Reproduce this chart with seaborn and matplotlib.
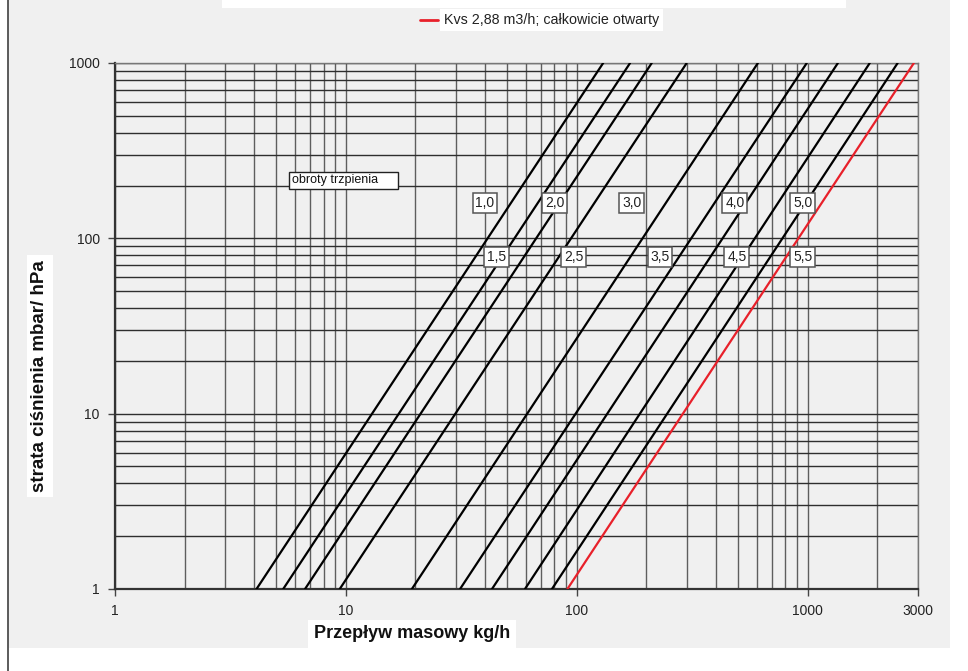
import matplotlib
matplotlib.use("Agg")
import matplotlib.pyplot as plt
from matplotlib.patches import Rectangle
from matplotlib.lines import Line2D
from matplotlib.ticker import FixedLocator, NullFormatter, LogLocator
import numpy as np
import pandas as pd
import seaborn as sns

# Valve characteristic: pressure loss vs. mass flow for each number of spindle turns
turns = ["1,0", "1,5", "2,0", "2,5", "3,0", "3,5", "4,0", "4,5", "5,0"]
flow_at_1mbar = [4.1, 5.35, 6.65, 9.4, 19.3, 31.2, 42.9, 59.6, 78.0]          # kg/h
flow_at_1000mbar = [130, 170, 211, 299, 608, 990, 1350, 1855, 2450]          # kg/h
dp_ends = [1, 1000]                                                          # mbar

# Fully open valve, Kvs 2.88 m3/h
open_flow = [91, 2880]
open_label = "Kvs 2,88 m3/h; całkowicie otwarty"

# Turn labels placed next to the curves (x in kg/h, y in mbar)
label_text = ["1,0", "2,0", "3,0", "4,0", "5,0", "1,5", "2,5", "3,5", "4,5", "5,5"]
label_x = [40, 80, 173, 483, 951, 45, 97, 229, 493, 951]
label_y = [159, 159, 159, 159, 159, 78, 78, 78, 78, 78]

x_ticks = [1, 10, 100, 1000, 3000]
x_tick_labels = ["1", "10", "100", "1000", "3000"]
y_ticks = [1, 10, 100, 1000]
y_tick_labels = ["1", "10", "100", "1000"]

rows = []
for t, f1, f2 in zip(turns, flow_at_1mbar, flow_at_1000mbar):
    rows.append({"obroty": t, "flow": f1, "dp": dp_ends[0]})
    rows.append({"obroty": t, "flow": f2, "dp": dp_ends[1]})
df = pd.DataFrame(rows)
df_open = pd.DataFrame({"flow": open_flow, "dp": dp_ends})

sns.set_theme(style="white")
plt.rcParams["font.family"] = ["Liberation Sans", "DejaVu Sans"]

BG = "#f0f0f0"
W, H = 968, 671
fig = plt.figure(figsize=(W / 100, H / 100), dpi=100, facecolor="white")

# grey panel behind the chart, with a dark left edge
fig.patches.append(Rectangle((8 / W, 1 - 648 / H), (950 - 8) / W, 648 / H,
                             transform=fig.transFigure, facecolor=BG,
                             edgecolor="none", zorder=-10))
fig.lines.append(Line2D([8 / W, 8 / W], [0.0, 1.0], transform=fig.transFigure,
                        color="#404040", lw=1.2))
# white strip at the top edge
fig.patches.append(Rectangle((222 / W, 1 - 8 / H), (846 - 222) / W, 8 / H,
                             transform=fig.transFigure, facecolor="white",
                             edgecolor="none", zorder=-5))

ax = fig.add_axes([115 / W, 1 - 589 / H, (918 - 115) / W, (589 - 63) / H])
ax.set_facecolor(BG)
ax.set_xscale("log")
ax.set_yscale("log")
ax.set_xlim(1, 3000)
ax.set_ylim(1, 1000)

sns.lineplot(data=df, x="flow", y="dp", units="obroty", estimator=None,
             color="black", lw=1.6, ax=ax, zorder=3)
sns.lineplot(data=df_open, x="flow", y="dp", color="#e8202a", lw=1.6,
             ax=ax, zorder=4)

ax.xaxis.set_major_locator(FixedLocator(x_ticks))
ax.set_xticklabels(x_tick_labels)
ax.yaxis.set_major_locator(FixedLocator(y_ticks))
ax.set_yticklabels(y_tick_labels)
ax.xaxis.set_minor_locator(LogLocator(base=10, subs=np.arange(2, 10)))
ax.yaxis.set_minor_locator(LogLocator(base=10, subs=np.arange(2, 10)))
ax.xaxis.set_minor_formatter(NullFormatter())
ax.yaxis.set_minor_formatter(NullFormatter())
ax.tick_params(which="major", length=5, width=1, color="#444444",
               labelsize=10, labelcolor="#222222", pad=6, bottom=True, left=True)
ax.tick_params(which="minor", length=0)

ax.xaxis.grid(True, which="both", color="#5e5e5e", lw=1.0, zorder=1)
ax.yaxis.grid(True, which="both", color="#2e2e2e", lw=1.0, zorder=1)
ax.set_axisbelow(True)

for side in ["left", "bottom"]:
    ax.spines[side].set_color("#333333")
    ax.spines[side].set_linewidth(1.6)
for side in ["top", "right"]:
    ax.spines[side].set_color("#777777")
    ax.spines[side].set_linewidth(1.0)

ax.set_xlabel("")
ax.set_ylabel("")

# curve labels
for txt, lx, ly in zip(label_text, label_x, label_y):
    ax.text(lx, ly, txt, ha="center", va="center", fontsize=10, color="#222222",
            zorder=6,
            bbox=dict(boxstyle="square,pad=0.2", facecolor="white",
                      edgecolor="#555555", lw=1.1))

# caption box for the turn labels
fig.patches.append(Rectangle((289 / W, 1 - 189 / H), (398 - 289) / W, 17 / H,
                             transform=fig.transFigure, facecolor="white",
                             edgecolor="#222222", lw=1.0, zorder=6))
fig.text(292 / W, 1 - 180.5 / H, "obroty trzpienia", ha="left", va="center",
         fontsize=9, color="#111111", zorder=7)

# axis titles
fig.text(412 / W, 1 - 634 / H, "Przepływ masowy kg/h", ha="center", va="center",
         fontsize=13, fontweight="bold", color="#111111",
         bbox=dict(boxstyle="square,pad=0.3", facecolor="white", edgecolor="none"))
fig.text(40 / W, 1 - 376 / H, "strata ciśnienia mbar/ hPa", ha="center",
         va="center", rotation=90, fontsize=13.5, fontweight="bold",
         color="#111111",
         bbox=dict(boxstyle="square,pad=0.25", facecolor="white", edgecolor="none"))

# legend for the fully open valve
fig.lines.append(Line2D([420 / W, 438 / W], [1 - 20 / H, 1 - 20 / H],
                        transform=fig.transFigure, color="#e8202a", lw=2))
fig.text(444 / W, 1 - 20 / H, open_label, ha="left", va="center", fontsize=10.3,
         color="#222222",
         bbox=dict(boxstyle="square,pad=0.3", facecolor="white", edgecolor="none"))

fig.savefig("out.png", dpi=100, facecolor="white")
